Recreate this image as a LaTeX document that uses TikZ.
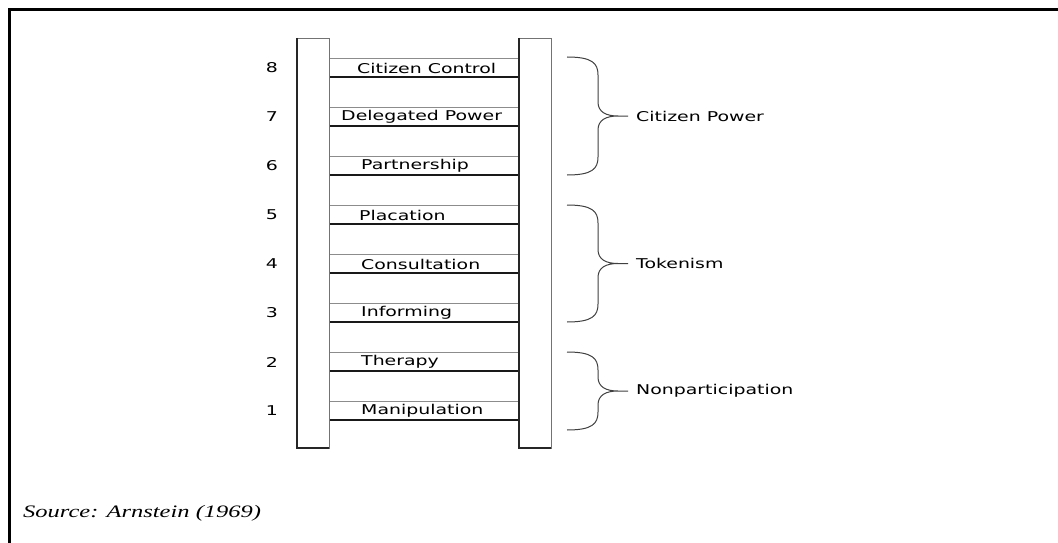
\documentclass[tikz,border=0pt]{standalone}
\usepackage{fontspec}
\setmainfont{Liberation Serif}
\newfontfamily\ladderfont[FakeStretch=1.4]{DejaVu Sans}
\newfontfamily\sourcefont[FakeStretch=1.4, ItalicFeatures={FakeStretch=1.4}]{Liberation Serif}
\usetikzlibrary{positioning}
\tikzset{
  frameline/.style={line width=2.5pt, black},
  rail/.style={draw=black!55, line width=0.8pt, fill=white},
  railedge/.style={black!85, line width=1.8pt},
  rungtop/.style={black!45, line width=0.8pt},
  rungbot/.style={black!90, line width=1.5pt},
  steplabel/.style={font=\ladderfont\fontsize{13.5}{16}\selectfont, inner sep=0pt, anchor=west},
  stepnum/.style={font=\ladderfont\fontsize{13.5}{16}\selectfont, inner sep=0pt},
  grouplabel/.style={font=\ladderfont\fontsize{13.5}{16}\selectfont, inner sep=0pt, anchor=west},
  bracket/.style={black!75, line width=1pt},
  sourcetag/.style={font=\sourcefont\itshape\fontsize{17.5}{20}\selectfont, inner sep=0pt, anchor=base west}
}
\begin{document}
\begin{tikzpicture}[x=1pt, y=-1pt]
  \useasboundingbox (0,0) rectangle (1058,543);
  \fill[white] (0,0) rectangle (1058,543);
  % open frame, top and left only
  \draw[frameline] (1058,9.5) -- (9.5,9.5) -- (9.5,543);

  % rungs with their labels and numbers
  \foreach \k/\txt/\lx [evaluate=\k as \ytop using 58+49*(8-\k)] in
    {8/Citizen Control/357, 7/Delegated Power/341, 6/Partnership/361,
     5/Placation/359, 4/Consultation/361, 3/Informing/361,
     2/Therapy/361, 1/Manipulation/361} {
    \draw[rungtop] (329,\ytop) -- (519,\ytop);
    \draw[rungbot] (329,\ytop+19) -- (519,\ytop+19);
    \node[steplabel] (r\k) at (\lx,\ytop+10) {\txt};
    \node[stepnum] (n\k) at (272,\ytop+10) {\k};
  }

  % rails
  \draw[rail] (297,38) rectangle (329,448);
  \draw[railedge] (297,38) -- (297,448) -- (329,448);
  \draw[rail] (519,38) rectangle (551,448);
  \draw[railedge] (519,38) -- (519,448) -- (551,448);

  % braces for the three groups
  \foreach \t/\b/\lab/\txt in {57/175/power/Citizen Power,
      205/322/token/Tokenism, 352/430/nonpart/Nonparticipation} {
    \pgfmathsetmacro\m{(\t+\b)/2}
    \draw[bracket] (567,\t) .. controls (592,\t) and (598,\t+6) .. (598,\t+18)
      -- (598,\m-14) .. controls (598,\m-4) and (606,\m) .. (618,\m) -- (628,\m)
      (618,\m) .. controls (606,\m) and (598,\m+4) .. (598,\m+14)
      -- (598,\b-18) .. controls (598,\b-6) and (592,\b) .. (567,\b);
    \node[grouplabel] (\lab) at (636,\m) {\txt};
  }

  \node[sourcetag] (src) at (23,517) {Source: Arnstein (1969)};
\end{tikzpicture}
\end{document}
